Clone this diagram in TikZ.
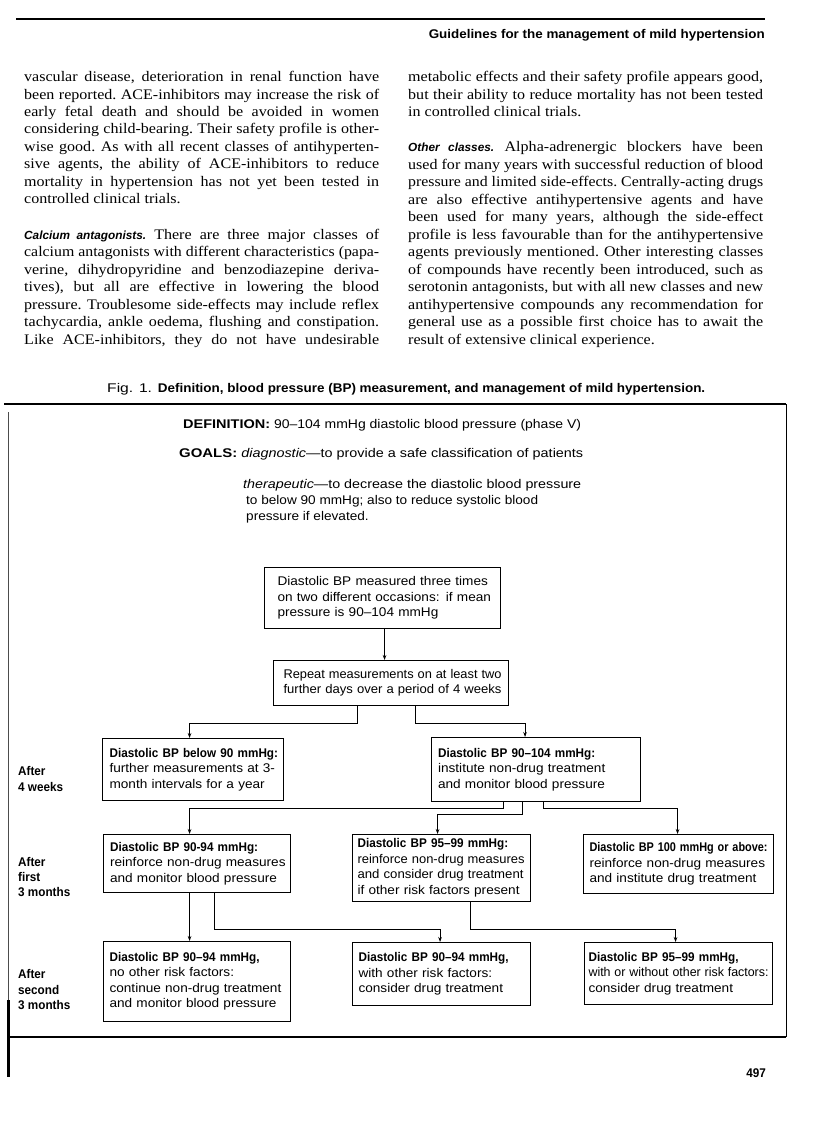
\documentclass[tikz,border=0pt]{standalone}
\usepackage{fontspec}
\usepackage{graphicx}
\usetikzlibrary{arrows.meta}
\setmainfont{Liberation Serif}[FakeStretch=1.1]
\newfontfamily\figrm{Liberation Sans}[FakeStretch=1.08]
\newfontfamily\figbdfam{Liberation Sans}[FakeStretch=0.93]
\newfontfamily\figwide{Liberation Sans}[FakeStretch=1.12]
\newfontfamily\hdfam{Liberation Sans}[FakeStretch=1.0]
\newcommand\fb{\figbdfam\bfseries}
\newcommand\fw{\figwide\bfseries}
\newcommand\hd{\hdfam\bfseries\itshape\fontsize{11.8}{17.5}\selectfont}
\newcommand\fitw[2]{\resizebox{#1}{\height}{#2}}
\newcommand\tl[1]{\begin{tabular}{@{}l@{}}#1\end{tabular}}
\newsavebox\jlbox
\newlength\jlht
\newcommand\jl[1]{\sbox\jlbox{#1}\setlength\jlht{\ht\jlbox}\ifdim\wd\jlbox>355pt\relax\resizebox{355pt}{\jlht}{\usebox\jlbox}\else\makebox[355pt][s]{#1}\fi}
\newcommand\colpar[1]{\parbox[t]{355pt}{\frenchspacing\fontsize{14.6}{17.5}\selectfont #1}}
\begin{document}
\begin{tikzpicture}[x=1pt,y=-1pt,
  body/.style={anchor=base west, inner sep=0pt},
  ftxt/.style={anchor=base west, inner sep=0pt, font=\figrm\fontsize{12.6}{15.5}\selectfont},
  lab/.style={anchor=base west, inner sep=0pt, font=\fb\fontsize{12.6}{15.5}\selectfont},
  box/.style={draw, line width=1.1pt, inner ysep=0pt, align=left, anchor=north west,
    font=\figrm\fontsize{12.6}{15.5}\selectfont},
  arr/.style={line width=0.9pt, -{Stealth[length=5pt,width=3.6pt]}},
  rule/.style={line width=1.5pt}]
\fill[white] (0,0) rectangle (816,1145);
\useasboundingbox (0,0) rectangle (816,1145);

% running head
\draw[rule] (16,19) -- (765,19);
\node[anchor=base east, inner sep=0pt] (head) at (765,39)
  {\fitw{336pt}{\fb\fontsize{12.6}{15}\selectfont Guidelines for the management of mild hypertension}};

% body text, left column
\node[body] (lp1) at (24,81.5) {\colpar{%
\jl{vascular disease, deterioration in renal function have}\\
\jl{been reported. ACE-inhibitors may increase the risk of}\\
\jl{early fetal death and should be avoided in women}\\
\jl{considering child-bearing. Their safety profile is other-}\\
\jl{wise good. As with all recent classes of antihyperten-}\\
\jl{sive agents, the ability of ACE-inhibitors to reduce}\\
\jl{mortality in hypertension has not yet been tested in}\\
\mbox{controlled clinical trials.}}};
\node[body] (lp2) at (24,239) {\colpar{%
\jl{{\hd Calcium antagonists.} There are three major classes of}\\
\jl{calcium antagonists with different characteristics (papa-}\\
\jl{verine, dihydropyridine and benzodiazepine deriva-}\\
\jl{tives), but all are effective in lowering the blood}\\
\jl{pressure. Troublesome side-effects may include reflex}\\
\jl{tachycardia, ankle oedema, flushing and constipation.}\\
\jl{Like ACE-inhibitors, they do not have undesirable}}};

% body text, right column
\node[body] (rp1) at (408,81.5) {\colpar{%
\jl{metabolic effects and their safety profile appears good,}\\
\jl{but their ability to reduce mortality has not been tested}\\
\mbox{in controlled clinical trials.}}};
\node[body] (rp2) at (408,151.5) {\colpar{%
\jl{{\hd Other classes.} Alpha-adrenergic blockers have been}\\
\jl{used for many years with successful reduction of blood}\\
\jl{pressure and limited side-effects. Centrally-acting drugs}\\
\jl{are also effective antihypertensive agents and have}\\
\jl{been used for many years, although the side-effect}\\
\jl{profile is less favourable than for the antihypertensive}\\
\jl{agents previously mentioned. Other interesting classes}\\
\jl{of compounds have recently been introduced, such as}\\
\jl{serotonin antagonists, but with all new classes and new}\\
\jl{antihypertensive compounds any recommendation for}\\
\jl{general use as a possible first choice has to await the}\\
\mbox{result of extensive clinical experience.}}};

% caption
\node[anchor=base west, inner sep=0pt] (cap) at (107,392)
  {\fitw{598pt}{\figrm\fontsize{12.6}{15}\selectfont Fig. 1. {\fb Definition, blood pressure (BP) measurement, and management of mild hypertension.}}};

% frame
\draw[line width=1.6pt] (4,404) -- (786,404);
\draw[line width=1.0pt] (786,404) -- (786,1037);
\draw[line width=1.4pt] (7,1037) -- (786,1037);
\draw[line width=0.8pt, black!70] (8,412) -- (8,1000);
\draw[line width=3pt] (8,1000) -- (8,1077);

% definition and goals
\node[ftxt] (def) at (183,428) {\fitw{398pt}{{\fw DEFINITION:} 90–104 mmHg diastolic blood pressure (phase V)}};
\node[ftxt] (goals) at (179,457) {\fitw{404pt}{{\fw GOALS:} \textit{diagnostic}—to provide a safe classification of patients}};
\node[ftxt] (ther1) at (243,488) {\fitw{338pt}{\textit{therapeutic}—to decrease the diastolic blood pressure}};
\node[ftxt] (ther2) at (246,504) {to below 90 mmHg; also to reduce systolic blood};
\node[ftxt] (ther3) at (246,520) {pressure if elevated.};

% boxes
\node[box, inner xsep=13pt, text width=210pt, minimum height=61pt] (B1) at (264,567)
  {\tl{Diastolic BP measured three times\\on two different occasions: if mean\\pressure is 90–104 mmHg}};
\node[box, inner xsep=10pt, text width=215pt, minimum height=45pt] (B2) at (273,660)
  {\tl{\fitw{218pt}{Repeat measurements on at least two}\\\fitw{218pt}{further days over a period of 4 weeks}}};
\node[box, inner xsep=7pt, text width=167pt, minimum height=62pt] (B3) at (102,738)
  {\tl{{\fb Diastolic BP below 90 mmHg:}\\further measurements at 3-\\month intervals for a year}};
\node[box, inner xsep=6.5pt, text width=196pt, minimum height=64pt] (B4) at (431,737)
  {\tl{{\fb Diastolic BP 90–104 mmHg:}\\institute non-drug treatment\\and monitor blood pressure}};
\node[box, inner xsep=6.5pt, text width=174pt, minimum height=58pt] (B5) at (103,834)
  {\tl{{\fb Diastolic BP 90-94 mmHg:}\\reinforce non-drug measures\\and monitor blood pressure}};
\node[box, inner xsep=5pt, text width=168pt, minimum height=67pt] (B6) at (352,834)
  {\tl{{\fb Diastolic BP 95–99 mmHg:}\\\fitw{167pt}{reinforce non-drug measures}\\\fitw{166pt}{and consider drug treatment}\\if other risk factors present}};
\node[box, inner xsep=6pt, text width=178pt, minimum height=59pt] (B7) at (583,834)
  {\tl{\fitw{178pt}{\fb Diastolic BP 100 mmHg or above:}\\reinforce non-drug measures\\and institute drug treatment}};
\node[box, inner xsep=6pt, text width=175pt, minimum height=80pt] (B8) at (103,941)
  {\tl{{\fb Diastolic BP 90–94 mmHg,}\\no other risk factors:\\continue non-drug treatment\\and monitor blood pressure}};
\node[box, inner xsep=6pt, text width=166pt, minimum height=63pt] (B9) at (352,942)
  {\tl{{\fb Diastolic BP 90–94 mmHg,}\\with other risk factors:\\consider drug treatment}};
\node[box, inner xsep=4pt, text width=180pt, minimum height=62pt] (B10) at (584,942)
  {\tl{{\fb Diastolic BP 95–99 mmHg,}\\\fitw{180pt}{with or without other risk factors:}\\consider drug treatment}};

% row labels
\node[lab] (a1) at (18,775.5) {After};
\node[lab] (a2) at (18,791.5) {4 weeks};
\node[lab] (b1) at (18,866.5) {After};
\node[lab] (b2) at (18,881.5) {first};
\node[lab] (b3) at (18,896.5) {3 months};
\node[lab] (c1) at (18,978.5) {After};
\node[lab] (c2) at (18,994.5) {second};
\node[lab] (c3) at (18,1009.5) {3 months};

% connectors
\draw[arr] ([xshift=2pt]B1.south) -- ([xshift=2pt]B1.south |- B2.north);
\draw[arr] ([xshift=-33.5pt]B2.south) -- ++(0,17) -| ([xshift=-3.5pt]B3.north);
\draw[arr] ([xshift=24.5pt]B2.south) -- ++(0,17) -| ([xshift=-11pt]B4.north);
\draw[arr] ([xshift=-32.5pt]B4.south) -- ++(0,6) -| ([xshift=-7.5pt]B5.north);
\draw[arr] ([xshift=-13.5pt]B4.south) -- ++(0,12) -| ([xshift=-4pt]B6.north);
\draw[arr] ([xshift=7.5pt]B4.south) -- ++(0,6) -| ([xshift=-1pt]B7.north);
\draw[arr] ([xshift=-7.5pt]B5.south) -- ([xshift=-7.5pt]B5.south |- B8.north);
\draw[arr] ([xshift=17pt]B5.south) -- ++(0,36) -| ([xshift=-1.5pt]B9.north);
\draw[arr] ([xshift=29pt]B6.south) -- ++(0,27) -| ([xshift=-3pt]B10.north);

% page number
\node[anchor=base east, inner sep=0pt] (pg) at (766,1077) {\fb\fontsize{12.6}{15}\selectfont 497};
\end{tikzpicture}
\end{document}
